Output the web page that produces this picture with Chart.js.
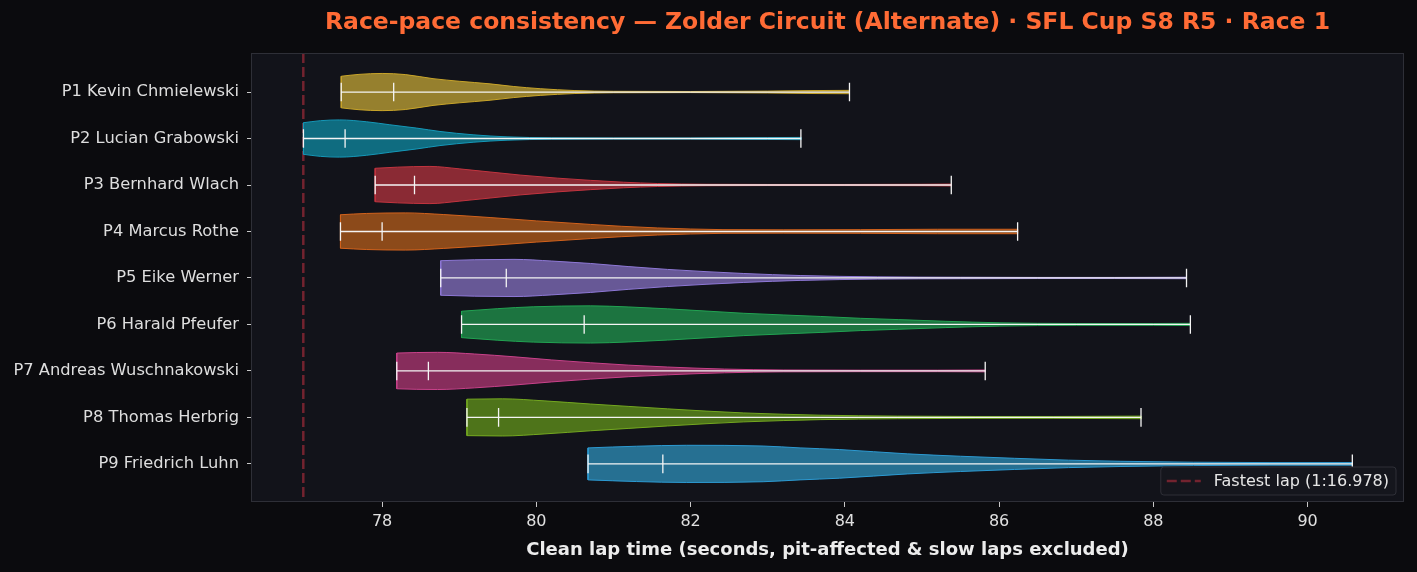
<!DOCTYPE html>
<html>
<head>
<meta charset="utf-8">
<script src="https://cdn.jsdelivr.net/npm/chart.js@4.4.1/dist/chart.umd.min.js"></script>
<style>
  html, body { margin: 0; padding: 0; background: #0b0b0e; }
</style>
</head>
<body>
<canvas id="violinChart" width="1417" height="572"></canvas>
<script>
// one row per driver, top to bottom
const drivers = [
  "P1 Kevin Chmielewski",
  "P2 Lucian Grabowski",
  "P3 Bernhard Wlach",
  "P4 Marcus Rothe",
  "P5 Eike Werner",
  "P6 Harald Pfeufer",
  "P7 Andreas Wuschnakowski",
  "P8 Thomas Herbrig",
  "P9 Friedrich Luhn",
];
const lapMin = [77.47, 76.98, 77.91, 77.46, 78.76, 79.03, 78.19, 79.10, 80.67];
const lapMedian = [78.15, 77.52, 78.42, 78.00, 79.61, 80.62, 78.60, 79.51, 81.64];
const lapMax = [84.06, 83.43, 85.38, 86.24, 88.43, 88.48, 85.82, 87.84, 90.58];
const fastestLap = 76.978;
const xTicks = [78, 80, 82, 84, 86, 88, 90];

// violin outline: interior lap times and relative half-width
// (shapeW has one extra value at each end, for lapMin and lapMax)
const shapeX = [
  [77.7, 78.0, 78.3, 78.66, 79.0, 79.4, 79.7, 80.05, 80.5, 81.0, 82.0, 83.0, 83.6],
  [77.2, 77.45, 77.8, 78.1, 78.45, 78.75, 79.18, 79.62, 80.2, 81.0, 82.0, 83.0],
  [78.2, 78.62, 79.0, 79.4, 79.8, 80.27, 80.7, 81.13, 81.57, 82.2, 83.0, 84.0, 85.0],
  [77.8, 78.3, 78.8, 79.4, 80.0, 80.7, 81.1, 81.57, 82.42, 83.2, 84.2, 85.2],
  [79.2, 79.71, 80.2, 80.7, 81.2, 81.7, 82.2, 82.69, 83.43, 84.42, 85.5, 86.5, 87.5],
  [79.5, 79.96, 80.7, 81.2, 81.7, 82.2, 82.69, 83.2, 83.68, 84.2, 84.7, 85.3, 86.0, 87.0, 88.0],
  [78.45, 78.72, 79.2, 79.71, 80.2, 80.7, 81.2, 81.7, 82.44, 83.2, 84.2, 85.2],
  [79.56, 80.1, 80.7, 81.2, 81.7, 82.2, 82.69, 83.2, 83.68, 84.68, 85.7, 86.7],
  [81.3, 81.95, 82.94, 83.42, 83.93, 84.81, 85.5, 86.2, 86.9, 87.58, 88.52, 89.5],
];
const shapeW = [
  [0.85, 0.95, 1.0, 0.94, 0.72, 0.58, 0.44, 0.3, 0.18, 0.08, 0.04, 0.03, 0.05, 0.08, 0.09],
  [0.85, 0.96, 1.0, 0.9, 0.74, 0.56, 0.38, 0.2, 0.09, 0.04, 0.03, 0.03, 0.05, 0.06],
  [0.9, 0.96, 1.0, 0.87, 0.7, 0.53, 0.37, 0.25, 0.15, 0.08, 0.04, 0.03, 0.03, 0.04, 0.05],
  [0.9, 0.97, 1.0, 0.91, 0.75, 0.57, 0.38, 0.28, 0.19, 0.1, 0.09, 0.1, 0.12, 0.12],
  [0.93, 0.98, 1.0, 0.91, 0.78, 0.61, 0.46, 0.34, 0.24, 0.13, 0.06, 0.04, 0.03, 0.03, 0.04],
  [0.71, 0.85, 0.95, 1.0, 0.94, 0.84, 0.72, 0.6, 0.51, 0.43, 0.33, 0.26, 0.17, 0.09, 0.05, 0.05, 0.06],
  [0.96, 0.99, 1.0, 0.91, 0.76, 0.59, 0.44, 0.31, 0.21, 0.1, 0.05, 0.04, 0.04, 0.05],
  [0.98, 1.0, 0.89, 0.72, 0.59, 0.46, 0.34, 0.24, 0.17, 0.12, 0.07, 0.05, 0.05, 0.07],
  [0.86, 0.95, 1.0, 0.96, 0.86, 0.77, 0.54, 0.41, 0.3, 0.2, 0.14, 0.09, 0.07, 0.07],
];
const fillColors = ["#96802e", "#0f6c80", "#8a2a34", "#8c4a1a", "#675896", "#1c7440", "#872d5c", "#4e741a", "#267092"];
const edgeColors = ["#c9a52a", "#1598b8", "#c2343f", "#d2621c", "#8e78d6", "#22a352", "#c8428a", "#74a820", "#2c9ad2"];

const HALF = 0.4;   // max half-width of a violin, in row units
const CAP = 0.2;    // half-length of min/median/max ticks
const FASTEST_COLOR = "#73232f";

const datasets = [];

// median / extrema bars, one dataset with gaps
const statPts = [];
drivers.forEach((d, i) => {
  statPts.push({x: lapMin[i], y: i}, {x: lapMax[i], y: i}, {x: lapMax[i], y: null});
  [lapMin[i], lapMedian[i], lapMax[i]].forEach(v => {
    statPts.push({x: v, y: i - CAP}, {x: v, y: i + CAP}, {x: v, y: null});
  });
});
datasets.push({
  data: statPts, borderColor: "#f4f4f4", borderWidth: 1.3,
  pointRadius: 0, spanGaps: false, tension: 0, order: 0,
});

drivers.forEach((d, i) => {
  const xs = [lapMin[i], ...shapeX[i], lapMax[i]];
  const ws = shapeW[i];
  datasets.push({
    data: xs.map((x, k) => ({x: x, y: i - HALF * ws[k]})),
    fill: "+1", backgroundColor: fillColors[i], borderColor: edgeColors[i],
    borderWidth: 1, pointRadius: 0, cubicInterpolationMode: "monotone", order: 4,
  });
  datasets.push({
    data: xs.map((x, k) => ({x: x, y: i + HALF * ws[k]})),
    fill: false, borderColor: edgeColors[i],
    borderWidth: 1, pointRadius: 0, cubicInterpolationMode: "monotone", order: 3,
  });
  const w0 = ws[0], wn = ws[ws.length - 1];
  datasets.push({
    data: [
      {x: lapMin[i], y: i - HALF * w0}, {x: lapMin[i], y: i + HALF * w0}, {x: lapMin[i], y: null},
      {x: lapMax[i], y: i - HALF * wn}, {x: lapMax[i], y: i + HALF * wn},
    ],
    fill: false, borderColor: edgeColors[i], borderWidth: 1, pointRadius: 0,
    spanGaps: false, tension: 0, order: 3,
  });
});

datasets.push({
  label: "Fastest lap (1:16.978)",
  data: [{x: fastestLap, y: -0.84}, {x: fastestLap, y: 8.82}],
  borderColor: FASTEST_COLOR, borderWidth: 2.5, borderDash: [10, 4],
  pointRadius: 0, fill: false, order: 5,
});

const frame = {
  id: "frame",
  beforeDatasetsDraw(chart) {
    const a = chart.chartArea, c = chart.ctx;
    c.save();
    c.fillStyle = "#12131a";
    c.fillRect(a.left, a.top, a.right - a.left, a.bottom - a.top);
    c.restore();
  },
  afterDraw(chart) {
    const a = chart.chartArea, c = chart.ctx;
    c.save();
    c.strokeStyle = "#2e2f37";
    c.lineWidth = 1;
    c.strokeRect(a.left + 0.5, a.top + 0.5, a.right - a.left - 1, a.bottom - a.top - 1);

    // title, centred over the plot area
    c.fillStyle = "#ff6b35";
    c.font = "bold 23.5px 'DejaVu Sans'";
    c.textAlign = "center";
    c.textBaseline = "middle";
    c.fillText("Race-pace consistency \u2014 Zolder Circuit (Alternate) \u00b7 SFL Cup S8 R5 \u00b7 Race 1",
      (a.left + a.right) / 2, 23);

    // legend box, lower right inside the plot
    const label = "Fastest lap (1:16.978)";
    c.font = "16px 'DejaVu Sans'";
    const tw = c.measureText(label).width;
    const bw = tw + 60, bh = 28;
    const bx = a.right - 8 - bw, by = a.bottom - 7 - bh;
    c.fillStyle = "#15161d";
    c.strokeStyle = "#2e2f37";
    c.beginPath();
    c.roundRect(bx, by, bw, bh, 3);
    c.fill();
    c.stroke();
    c.strokeStyle = FASTEST_COLOR;
    c.lineWidth = 2.5;
    c.setLineDash([10, 4]);
    c.beginPath();
    c.moveTo(bx + 6, by + bh / 2);
    c.lineTo(bx + 40, by + bh / 2);
    c.stroke();
    c.setLineDash([]);
    c.fillStyle = "#e6e6e6";
    c.textAlign = "left";
    c.fillText(label, bx + 53, by + bh / 2 + 1);
    c.restore();
  },
};

Chart.defaults.font.family = "'DejaVu Sans', sans-serif";

new Chart(document.getElementById("violinChart"), {
  type: "line",
  data: {datasets: datasets},
  options: {
    responsive: false,
    animation: false,
    events: [],
    layout: {padding: {top: 53, right: 13, bottom: 0, left: 0}},
    plugins: {legend: {display: false}, tooltip: {enabled: false}},
    scales: {
      x: {
        type: "linear", min: 76.3, max: 91.25,
        afterBuildTicks: s => { s.ticks = xTicks.map(v => ({value: v})); },
        afterFit: s => { s.height = 70; },
        grid: {drawOnChartArea: false, drawTicks: true, tickLength: 5, color: "#c8c8c8"},
        border: {display: false},
        ticks: {color: "#e0e0e0", font: {size: 16}, padding: 5},
        title: {
          display: true, text: "Clean lap time (seconds, pit-affected & slow laps excluded)",
          color: "#ececec", font: {size: 18, weight: "bold"}, padding: {top: 0, bottom: 11},
        },
      },
      y: {
        type: "linear", reverse: true, min: -0.84, max: 8.82,
        afterBuildTicks: s => { s.ticks = drivers.map((d, i) => ({value: i})); },
        afterFit: s => { s.width = 251; },
        grid: {drawOnChartArea: false, drawTicks: true, tickLength: 4, color: "#c8c8c8"},
        border: {display: false},
        ticks: {
          color: "#dedede", font: {size: 16.3}, padding: 8, autoSkip: false,
          callback: v => drivers[v],
        },
      },
    },
  },
  plugins: [frame],
});
</script>
</body>
</html>
